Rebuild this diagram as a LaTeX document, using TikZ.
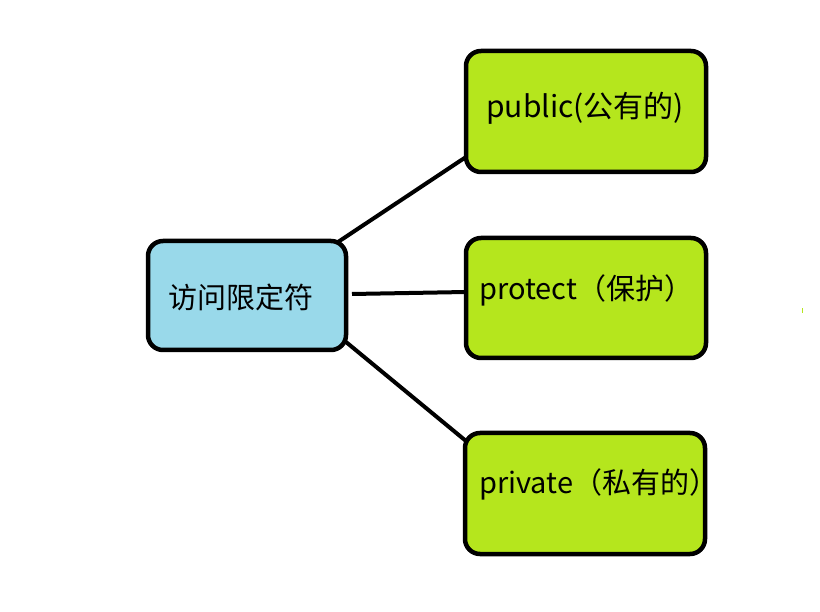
\documentclass[tikz,border=0pt]{standalone}
\usepackage{fontspec}
\setmainfont{Noto Sans CJK SC}
\definecolor{boxblue}{RGB}{153,217,234}
\definecolor{boxgreen}{RGB}{181,230,29}
\begin{document}
\begin{tikzpicture}[x=1pt,y=-1pt,
  box/.style={draw=black,line width=4.5pt,rounded corners=15pt},
  lbl/.style={font=\fontsize{29}{33}\selectfont,inner sep=0pt},
  conn/.style={line width=4pt,black}]
\useasboundingbox[fill=white] (0,0) rectangle (820,612);
\draw[box,fill=boxblue] (148,241) rectangle (346,350);
\draw[box,fill=boxgreen] (466,51) rectangle (706,172);
\draw[box,fill=boxgreen] (466,238) rectangle (706,358);
\draw[box,fill=boxgreen] (465,433) rectangle (705,554);
\node[lbl,anchor=west] (root) at (168,297) {访问限定符};
\node[lbl,anchor=west,font=\fontsize{30}{34}\selectfont] (pub) at (486,108) {public(公有的)};
\node[lbl,anchor=west] (pro) at (479,290) {protect（保护）};
\node[lbl,anchor=west] (pri) at (479,484) {private（私有的）};
\coordinate (a1) at (338,242); \coordinate (b1) at (466,157);
\coordinate (a2) at (352,294); \coordinate (b2) at (466,292);
\coordinate (a3) at (346,342); \coordinate (b3) at (466,441);
\draw[conn] (a1) -- (b1);
\draw[conn] (a2) -- (b2);
\draw[conn] (a3) -- (b3);
\fill[boxgreen] (801.5,308) rectangle (803,313);
\end{tikzpicture}
\end{document}
